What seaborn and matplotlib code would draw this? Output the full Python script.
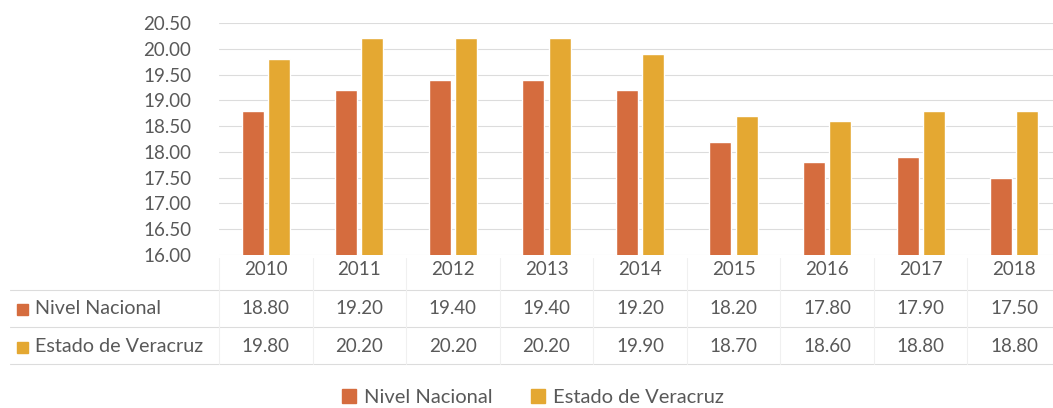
import matplotlib.pyplot as plt
import pandas as pd
import seaborn as sns
from matplotlib.patches import Rectangle
from matplotlib.lines import Line2D

years = ["2010", "2011", "2012", "2013", "2014", "2015", "2016", "2017", "2018"]
nivel_nacional = [18.80, 19.20, 19.40, 19.40, 19.20, 18.20, 17.80, 17.90, 17.50]
estado_veracruz = [19.80, 20.20, 20.20, 20.20, 19.90, 18.70, 18.60, 18.80, 18.80]
series_names = ["Nivel Nacional", "Estado de Veracruz"]
y_ticks = [16.0, 16.5, 17.0, 17.5, 18.0, 18.5, 19.0, 19.5, 20.0, 20.5]

COLORS = ["#D56C3E", "#E4A832"]
TEXT = "#595959"
GRID = "#DCDCDC"
FONT = ["Lato", "DejaVu Sans"]

sns.set_theme(style="white")
plt.rcParams["font.family"] = FONT

df = pd.DataFrame({
    "year": years * 2,
    "value": nivel_nacional + estado_veracruz,
    "serie": [series_names[0]] * len(years) + [series_names[1]] * len(years),
})

fig = plt.figure(figsize=(10.53, 4.08), dpi=100)
ax = fig.add_axes([219 / 1053, 153 / 408, 842 / 1053, 232 / 408])

sns.barplot(data=df, x="year", y="value", hue="serie", palette=COLORS, saturation=1,
            width=0.56, gap=0.16, ax=ax, legend=False, zorder=3)

ax.set_ylim(16, 20.5)
ax.set_xlim(-0.5, 8.5)
ax.set_yticks(y_ticks)
ax.set_yticklabels([f"{t:.2f}" for t in y_ticks], fontsize=13.5, color=TEXT)
ax.set_xticks(range(len(years)))
ax.set_xticklabels(years, fontsize=13.5, color=TEXT)
ax.tick_params(axis="x", length=0, pad=4)
ax.tick_params(axis="y", length=0, pad=20)
ax.yaxis.grid(True, color=GRID, linewidth=0.8)
ax.set_axisbelow(True)
ax.set_xlabel("")
ax.set_ylabel("")
for s in ax.spines.values():
    s.set_visible(False)

# tabla de datos debajo de la grafica
row_y = [309, 347]
rows = [nivel_nacional, estado_veracruz]
for yy, vals, name, col in zip(row_y, rows, series_names, COLORS):
    fy = 1 - yy / 408
    for i, v in enumerate(vals):
        fig.text(ax.transData.transform((i, 0))[0] / fig.bbox.width, fy, f"{v:.2f}",
                 ha="center", va="center", fontsize=13.5, color=TEXT)
    fig.patches.append(Rectangle((17 / 1053, fy - 5.5 / 408), 11 / 1053, 11 / 408,
                                 transform=fig.transFigure, color=col, figure=fig))
    fig.text(35 / 1053, fy, name, ha="left", va="center", fontsize=14.2, color=TEXT)

for yy in [290, 327, 364]:
    fig.add_artist(Line2D([10 / 1053, 1], [1 - yy / 408] * 2, color=GRID, lw=0.8,
                          transform=fig.transFigure))
for i in range(len(years)):
    xf = ax.transData.transform((i - 0.5, 0))[0] / fig.bbox.width
    fig.add_artist(Line2D([xf, xf], [1 - 258 / 408, 1 - 364 / 408], color="#F0F0F0",
                          lw=0.8, transform=fig.transFigure))

handles = [Rectangle((0, 0), 1, 1, color=c) for c in COLORS]
fig.legend(handles, series_names, loc="center", bbox_to_anchor=(0.506, 0.025), ncol=2,
           frameon=False, fontsize=14.5, labelcolor=TEXT, handlelength=0.7,
           handleheight=0.7, handletextpad=0.4, columnspacing=1.9)

fig.savefig("out.png", dpi=100)
